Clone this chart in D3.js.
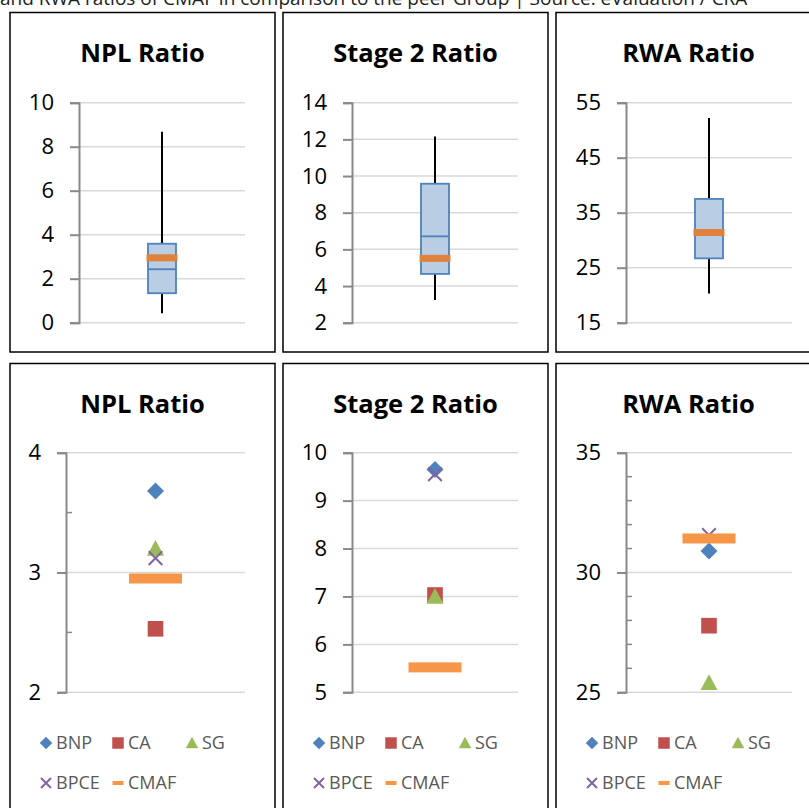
<!DOCTYPE html>
<html>
<head>
<meta charset="utf-8">
<script src="https://cdn.jsdelivr.net/npm/d3@7"></script>
<style>
  html, body { margin: 0; padding: 0; background: #fff; overflow: hidden; }
  svg { display: block; font-family: "Open Sans", sans-serif; }
</style>
</head>
<body>
<svg id="chart" width="809" height="808"></svg>
<script>
// ---------- DATA ----------
const captionText = "and RWA ratios of CMAF in comparison to the peer Group | Source: eValuation / CRA";

const boxTitles = ["NPL Ratio", "Stage 2 Ratio", "RWA Ratio"];
const boxMin    = [0.43, 3.24, 20.3];
const boxQ1     = [1.34, 4.66, 26.7];
const boxMedian = [2.43, 6.71, 31.3];
const boxQ3     = [3.59, 9.58, 37.5];
const boxMax    = [8.68, 12.15, 52.2];
const boxCmaf   = [2.95, 5.51, 31.4];
const boxTicks  = [[0, 2, 4, 6, 8, 10], [2, 4, 6, 8, 10, 12, 14], [15, 25, 35, 45, 55]];

const banks        = ["BNP", "CA", "SG", "BPCE", "CMAF"];
const nplValues    = [3.68, 2.53, 3.20, 3.12, 2.95];
const stage2Values = [9.65, 7.03, 7.00, 9.55, 5.52];
const rwaValues    = [30.90, 27.78, 25.40, 31.56, 31.42];
const scatterTitles = ["NPL Ratio", "Stage 2 Ratio", "RWA Ratio"];
const scatterTicks  = [[2, 3, 4], [5, 6, 7, 8, 9, 10], [25, 30, 35]];
const scatterMinor  = [[2.5, 3.5], [], [26, 27, 28, 29, 31, 32, 33, 34]];

// ---------- STYLE / LAYOUT ----------
const bankColors = {BNP: "#4f81bd", CA: "#c0504d", SG: "#9bbb59", BPCE: "#8064a2", CMAF: "#f79646"};
const panelX = [10, 283, 556];
const panelW = 265;
const topAxisX = [79, 352, 626];
const botAxisX = [66, 352, 626];
const plotRight = [245, 518, 792];
const gridColor = "#d9d9d9";
const axisColor = "#898989";

const svg = d3.select("#chart");

// caption (cut at top, as in the reference)
svg.append("text")
  .attr("x", 0).attr("y", 5)
  .attr("font-size", 19).attr("fill", "#222")
  .text(captionText);

function panelFrame(i, y0, h, title, titleY) {
  svg.append("rect")
    .attr("x", panelX[i]).attr("y", y0)
    .attr("width", panelW).attr("height", h)
    .attr("fill", "#fff").attr("stroke", "#000").attr("stroke-width", 1.5);
  svg.append("text")
    .attr("x", panelX[i] + panelW / 2).attr("y", titleY)
    .attr("text-anchor", "middle").attr("font-size", 25.5).attr("font-weight", 700)
    .attr("fill", "#000").text(title);
}

function drawAxis(g, y, ticks, ax, right, minor) {
  g.selectAll(".grid").data(ticks).join("line")
    .attr("x1", ax).attr("x2", right)
    .attr("y1", d => y(d)).attr("y2", d => y(d))
    .attr("stroke", gridColor).attr("stroke-width", 1.5);
  const axis = d3.axisLeft(y).tickValues(ticks).tickSize(9).tickPadding(16)
    .tickFormat(d3.format("d"));
  const ag = g.append("g").attr("transform", `translate(${ax},0)`).call(axis);
  ag.select(".domain").attr("stroke", axisColor).attr("stroke-width", 2);
  ag.selectAll(".tick line").attr("stroke", axisColor).attr("stroke-width", 2);
  ag.selectAll(".tick text").attr("font-size", 22).attr("fill", "#000")
    .attr("font-family", "Open Sans, sans-serif");
  if (minor && minor.length) {
    g.selectAll(".minor").data(minor).join("line")
      .attr("x1", ax).attr("x2", ax + 6)
      .attr("y1", d => y(d)).attr("y2", d => y(d))
      .attr("stroke", axisColor).attr("stroke-width", 1.5);
  }
}

// ---------- TOP ROW: BOX PLOTS ----------
for (let i = 0; i < 3; i++) {
  panelFrame(i, 12.5, 339.5, boxTitles[i], 61.5);
  const ticks = boxTicks[i];
  const y = d3.scaleLinear().domain([ticks[0], ticks[ticks.length - 1]]).range([322.7, 102.7]);
  const x = d3.scalePoint().domain(["all"]).range([topAxisX[i], plotRight[i]]).padding(0.5);
  const g = svg.append("g");
  drawAxis(g, y, ticks, topAxisX[i], plotRight[i], []);
  const cx = x("all");
  const bw = 28;
  g.append("line")
    .attr("x1", cx).attr("x2", cx).attr("y1", y(boxMin[i])).attr("y2", y(boxMax[i]))
    .attr("stroke", "#000").attr("stroke-width", 2);
  g.append("rect")
    .attr("x", cx - bw / 2).attr("width", bw)
    .attr("y", y(boxQ3[i])).attr("height", y(boxQ1[i]) - y(boxQ3[i]))
    .attr("fill", "#b9cde5").attr("stroke", "#4f81bd").attr("stroke-width", 1.8);
  g.append("line")
    .attr("x1", cx - bw / 2).attr("x2", cx + bw / 2)
    .attr("y1", y(boxMedian[i])).attr("y2", y(boxMedian[i]))
    .attr("stroke", "#4f81bd").attr("stroke-width", 1.8);
  g.append("rect")
    .attr("x", cx - 15.5).attr("width", 31)
    .attr("y", y(boxCmaf[i]) - 3.5).attr("height", 7)
    .attr("fill", "#e0823b");
}

// ---------- BOTTOM ROW: PEER MARKERS ----------
function markerPath(name, s) {
  const h = s / 2;
  switch (name) {
    case "BNP": return `M0,${-h}L${h},0L0,${h}L${-h},0Z`;
    case "CA": { const q = h * 0.92; return `M${-q},${-q}H${q}V${q}H${-q}Z`; }
    case "SG": return `M0,${-h}L${h},${h * 0.85}L${-h},${h * 0.85}Z`;
    case "BPCE": { const q = h * 0.8; return `M${-q},${-q}L${q},${q}M${q},${-q}L${-q},${q}`; }
  }
}
function drawMarker(g, name, cx, cy, s, barW, barH) {
  if (name === "CMAF") {
    g.append("rect").attr("x", cx - barW / 2).attr("y", cy - barH / 2)
      .attr("width", barW).attr("height", barH).attr("fill", bankColors.CMAF);
  } else if (name === "BPCE") {
    g.append("path").attr("d", markerPath(name, s)).attr("transform", `translate(${cx},${cy})`)
      .attr("fill", "none").attr("stroke", bankColors.BPCE).attr("stroke-width", 2);
  } else {
    g.append("path").attr("d", markerPath(name, s)).attr("transform", `translate(${cx},${cy})`)
      .attr("fill", bankColors[name]);
  }
}

const scatterValues = [nplValues, stage2Values, rwaValues];
const legendCols = [36, 108, 182];
const legendRows = [743, 783];

for (let i = 0; i < 3; i++) {
  panelFrame(i, 363.5, 460, scatterTitles[i], 412.5);
  const ticks = scatterTicks[i];
  const y = d3.scaleLinear().domain([ticks[0], ticks[ticks.length - 1]]).range([692.3, 452.7]);
  const x = d3.scalePoint().domain(["all"]).range([botAxisX[i], plotRight[i]]).padding(0.5);
  const g = svg.append("g");
  drawAxis(g, y, ticks, botAxisX[i], plotRight[i], scatterMinor[i]);
  const cx = x("all");
  banks.forEach((b, k) => {
    drawMarker(g, b, cx, y(scatterValues[i][k]), 17, 53, 10);
  });
  const lg = svg.append("g");
  banks.forEach((b, k) => {
    const lx = panelX[i] + legendCols[k % 3];
    const ly = legendRows[Math.floor(k / 3)];
    drawMarker(lg, b, lx, ly, 12.5, 11, 4);
    lg.append("text").attr("x", lx + 10).attr("y", ly).attr("dy", "0.35em")
      .attr("font-size", 18).attr("fill", "#595959").text(b);
  });
}
</script>
</body>
</html>
